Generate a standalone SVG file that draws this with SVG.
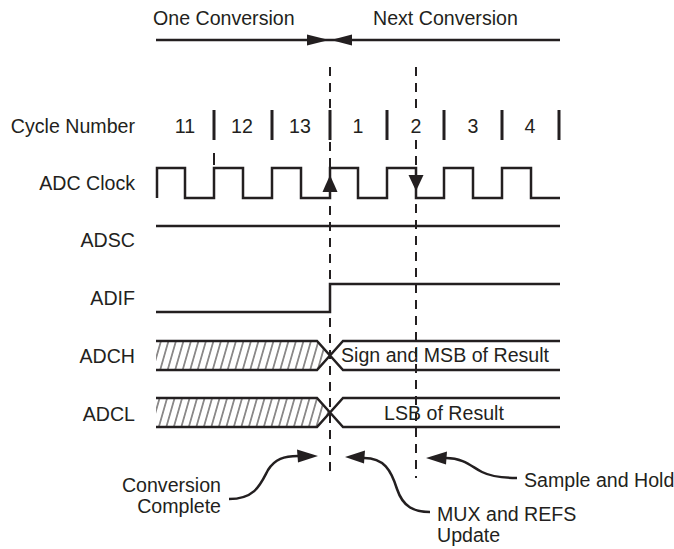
<svg xmlns="http://www.w3.org/2000/svg" width="674" height="549" viewBox="0 0 674 549">
<style>
  text { font-family: "Liberation Sans", Arial, sans-serif; font-size: 19.6px; fill: #231f20; }
  .lbl { text-anchor: end; }
  .num { text-anchor: middle; }
  .sig { fill: none; stroke: #231f20; stroke-width: 2.5; stroke-linejoin: miter; }
  .tick { stroke: #231f20; stroke-width: 3; }
  .dash { stroke: #231f20; stroke-width: 2; stroke-dasharray: 9 7; fill: none; }
  .curve { fill: none; stroke: #231f20; stroke-width: 2.5; }
  .head { fill: #231f20; stroke: none; }
  .hatch { stroke: #231f20; stroke-width: 1; }
</style>
<defs>
  <pattern id="hatch" patternUnits="userSpaceOnUse" x="0" y="0" width="7.5" height="30" patternTransform="skewX(-16)">
    <line x1="3.75" y1="-1" x2="3.75" y2="31" class="hatch"/>
  </pattern>
</defs>

<g id="header">
  <text x="153" y="25">One Conversion</text>
  <text x="373" y="25">Next Conversion</text>
</g>

<g id="connectors">
  <line x1="156" y1="40" x2="560" y2="40" class="sig"/>
  <polygon class="head" points="307,34.5 329,40 307,45.5"/>
  <polygon class="head" points="352,34.5 331,40 352,45.5"/>
  <line x1="330" y1="67" x2="330" y2="108" class="dash"/>
  <line x1="330" y1="142" x2="330" y2="478" class="dash"/>
  <line x1="416" y1="67" x2="416" y2="113" class="dash"/>
  <line x1="416" y1="140" x2="416" y2="478" class="dash"/>
  <line x1="214" y1="153" x2="214" y2="165" class="tick" style="stroke-width:2"/>
</g>

<g id="cycle-number">
  <text class="lbl" x="135" y="133">Cycle Number</text>
  <text class="num" x="185" y="133">11</text>
  <text class="num" x="242" y="133">12</text>
  <text class="num" x="300" y="133">13</text>
  <text class="num" x="358" y="133">1</text>
  <text class="num" x="416" y="133">2</text>
  <text class="num" x="473" y="133">3</text>
  <text class="num" x="530" y="133">4</text>
  <line class="tick" x1="214" y1="110" x2="214" y2="140"/>
  <line class="tick" x1="272" y1="110" x2="272" y2="140"/>
  <line class="tick" x1="330" y1="110" x2="330" y2="140"/>
  <line class="tick" x1="387" y1="110" x2="387" y2="140"/>
  <line class="tick" x1="444" y1="110" x2="444" y2="140"/>
  <line class="tick" x1="502" y1="110" x2="502" y2="140"/>
  <line class="tick" x1="559" y1="110" x2="559" y2="140"/>
</g>

<g id="adc-clock">
  <text class="lbl" x="135" y="190">ADC Clock</text>
  <path class="sig" d="M157,198 V168 H185 V198 H214 V168 H243 V198 H272 V168 H301 V198 H330 V168 H358 V198 H387 V168 H416 V198 H444 V168 H473 V198 H502 V168 H531 V198 H560"/>
  <polygon class="head" points="330,175 337.5,192 322.5,192"/>
  <polygon class="head" points="408.5,175 423.5,175 416,191"/>
</g>

<g id="adsc">
  <text class="lbl" x="135" y="247">ADSC</text>
  <line class="sig" x1="156" y1="226" x2="560" y2="226"/>
</g>

<g id="adif">
  <text class="lbl" x="135" y="305">ADIF</text>
  <path class="sig" d="M156,312 H330 V284 H560"/>
</g>

<g id="adch">
  <text class="lbl" x="135" y="363">ADCH</text>
  <polygon points="156,341 317,341 330,355.5 317,370 156,370" fill="url(#hatch)" stroke="none"/>
  <path class="sig" d="M156,341 H317 L343,370 H560 M156,370 H317 L343,341 H560"/>
  <text x="341" y="362">Sign and MSB of Result</text>
</g>

<g id="adcl">
  <text class="lbl" x="135" y="421">ADCL</text>
  <polygon points="156,398 317,398 330,412.5 317,427 156,427" fill="url(#hatch)" stroke="none"/>
  <path class="sig" d="M156,398 H317 L343,427 H560 M156,427 H317 L343,398 H560"/>
  <text class="num" x="444" y="420">LSB of Result</text>
</g>

<g id="conversion-complete">
  <text class="lbl" x="221" y="492">Conversion</text>
  <text class="lbl" x="221" y="513">Complete</text>
  <path class="curve" d="M229,499 C256,499 261,483 268,470 C275,459 284,456 298,456"/>
  <polygon class="head" points="318,456 297,449.5 298,462.5"/>
</g>

<g id="mux-refs-update">
  <text x="437" y="521">MUX and REFS</text>
  <text x="437" y="542">Update</text>
  <path class="curve" d="M364,458 C384,458 391,470 397,489 C403,507 414,512 430,512"/>
  <polygon class="head" points="345,457 365,450.5 364,463.5"/>
</g>

<g id="sample-hold">
  <text x="524" y="487">Sample and Hold</text>
  <path class="curve" d="M446,458 C464,458 472,467 482,472 C492,477 503,478 517,478"/>
  <polygon class="head" points="426,458 447,451.5 446,464.5"/>
</g>
</svg>
